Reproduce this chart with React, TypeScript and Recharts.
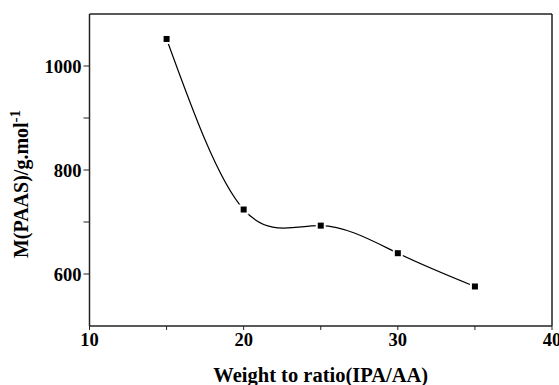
import { Label, Line, LineChart, XAxis, YAxis } from 'recharts'

const ratios = [15, 20, 25, 30, 35]
const molWeights = [1052, 724, 693, 640, 576]

const bottomTicks = [10, 15, 20, 25, 30, 35, 40]
const bottomLabels = [10, 20, 30, 40]
const topTicks = [13, 16, 19, 22, 25, 28, 31, 34, 37]
const leftTicks = [600, 700, 800, 900, 1000]
const leftLabels = [600, 800, 1000]
const rightTicks = [560, 620, 680, 740, 800, 860, 920, 980, 1040]

const data = ratios.map((ratio, i) => ({ ratio, mw: molWeights[i] }))

const FONT = '"Liberation Serif", "Times New Roman", serif'
const tickStyle = { fontFamily: FONT, fontSize: 18.5, fontWeight: 700, fill: '#000' }
const axisLine = { stroke: '#222', strokeWidth: 1.5 }

function SquareDot(props: any) {
  const { cx, cy } = props
  if (cx == null || cy == null) return null
  return <rect x={cx - 4} y={cy - 4} width={8} height={8} fill="#000" stroke="#fff" strokeWidth={2} />
}

function YTitle(props: any) {
  const vb = props.viewBox || { x: 0, y: 0, height: 0 }
  const x = vb.x + 28
  const y = vb.y + vb.height / 2 + 14
  return (
    <text
      x={x}
      y={y}
      transform={`rotate(-90, ${x}, ${y})`}
      textAnchor="middle"
      fontFamily={FONT}
      fontSize={20}
      fontWeight={700}
      fill="#000"
    >
      M(PAAS)/g.mol<tspan dy={-8} fontSize={15}>-1</tspan>
    </text>
  )
}

export default function App() {
  return (
    <div style={{ width: 559, height: 385 }}>
      <style>{'body{margin:0}'}</style>
      <LineChart width={559} height={385} data={data} margin={{ top: 13, right: 6, bottom: 0, left: 0 }}>
        <XAxis
          xAxisId="bottom"
          dataKey="ratio"
          type="number"
          domain={[10, 40]}
          ticks={bottomTicks}
          tickFormatter={(v: number) => (bottomLabels.includes(v) ? String(v) : '')}
          interval={0}
          height={59}
          tickSize={4}
          tickMargin={3}
          tick={tickStyle}
          axisLine={axisLine}
          tickLine={{ stroke: '#222' }}
        >
          <Label
            value="Weight to ratio(IPA/AA)"
            position="insideBottom"
            offset={3}
            style={{ fontFamily: FONT, fontSize: 20.5, fontWeight: 700, fill: '#000' }}
          />
        </XAxis>
        <XAxis
          xAxisId="top"
          orientation="top"
          type="number"
          domain={[10, 40]}
          ticks={topTicks}
          tickFormatter={() => ''}
          interval={0}
          height={1}
          tickSize={2}
          axisLine={axisLine}
          tickLine={{ stroke: '#222' }}
        />
        <YAxis
          yAxisId="left"
          type="number"
          domain={[500, 1100]}
          ticks={leftTicks}
          tickFormatter={(v: number) => (leftLabels.includes(v) ? String(v) : '')}
          interval={0}
          width={89.5}
          tickSize={6}
          tickMargin={2}
          tick={tickStyle}
          axisLine={axisLine}
          tickLine={{ stroke: '#222' }}
        >
          <Label content={<YTitle />} />
        </YAxis>
        <YAxis
          yAxisId="right"
          orientation="right"
          type="number"
          domain={[500, 1100]}
          ticks={rightTicks}
          tickFormatter={() => ''}
          interval={0}
          width={1}
          tickSize={2}
          axisLine={axisLine}
          tickLine={{ stroke: '#222' }}
        />
        <Line
          xAxisId="bottom"
          yAxisId="left"
          dataKey="mw"
          type="natural"
          stroke="#000"
          strokeWidth={1.2}
          dot={<SquareDot />}
          activeDot={false}
          isAnimationActive={false}
        />
      </LineChart>
    </div>
  )
}
